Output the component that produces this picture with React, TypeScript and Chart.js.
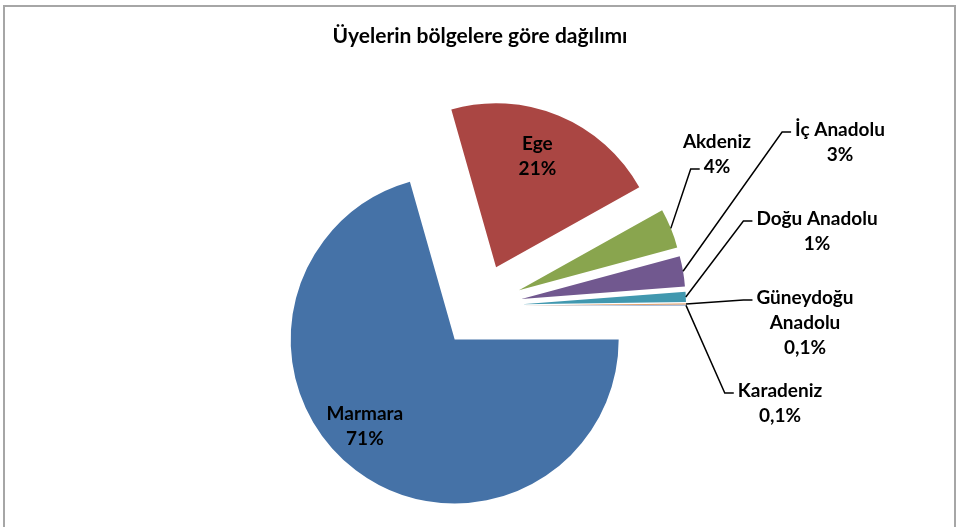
import React, { useEffect, useRef } from "react";
import { Chart, registerables } from "chart.js";

Chart.register(...registerables);

// ---- data ----
const titleText = "Üyelerin bölgelere göre dağılımı";
const categories = [
  "Marmara",
  "Ege",
  "Akdeniz",
  "İç Anadolu",
  "Doğu Anadolu",
  "Güneydoğu Anadolu",
  "Karadeniz",
];
const shares = [70.6, 21.3, 3.9, 3.0, 1.0, 0.1, 0.1];
// how each category name wraps in its data label
const nameLines = [
  ["Marmara"],
  ["Ege"],
  ["Akdeniz"],
  ["İç Anadolu"],
  ["Doğu Anadolu"],
  ["Güneydoğu", "Anadolu"],
  ["Karadeniz"],
];

// ---- styles / layout ----
const colors = ["#4572A7", "#AA4643", "#89A54E", "#71588F", "#4198AF", "#DB843D", "#93A9CF"];
const RADIUS = 164;
const EXPLODE = 42; // px each slice is pulled out from the centre
const FONT = "Lato, 'Open Sans', sans-serif";
const TITLE_SIZE = 21;
const LABEL_SIZE = 19;
const LINE_H = 25;
// label placement: inside slices (f = fraction of radius from the slice apex, da = angle shift in deg)
// or outside with leader line (dx/dy = centre of first text line relative to pie centre; attach = line the leader meets)
const labelLayout: Array<
  { inside: true; f: number; da: number } | { inside: false; dx: number; dy: number; attach: number }
> = [
  { inside: true, f: 0.76, da: 9 },
  { inside: true, f: 0.72, da: -2 },
  { inside: false, dx: 237, dy: -164, attach: 1 },
  { inside: false, dx: 360, dy: -176, attach: 0 },
  { inside: false, dx: 337, dy: -87, attach: 0 },
  { inside: false, dx: 325, dy: -8, attach: 0 },
  { inside: false, dx: 300, dy: 85, attach: 0 },
];

const total = shares.reduce((a, b) => a + b, 0);
const fmtPct = (v: number) => {
  const p = (v / total) * 100;
  if (p < 1) return p.toFixed(1).replace(".", ",") + "%";
  return Math.round(p) + "%";
};

const framePlugin = {
  id: "frame",
  beforeDraw(chart: any) {
    const ctx = chart.ctx;
    ctx.save();
    ctx.strokeStyle = "#a6a6a6";
    ctx.lineWidth = 2;
    ctx.strokeRect(4, 6, 951, 560);
    ctx.restore();
  },
};

// draw every arc element of the library pulled out along its bisector (exploded pie)
const explodePlugin = {
  id: "explode",
  beforeDatasetDraw(chart: any, args: any) {
    const ctx = chart.ctx;
    args.meta.data.forEach((arc: any) => {
      const mid = (arc.startAngle + arc.endAngle) / 2;
      ctx.save();
      ctx.translate(Math.cos(mid) * EXPLODE, Math.sin(mid) * EXPLODE);
      arc.draw(ctx);
      ctx.restore();
    });
    return false;
  },
};

const labelPlugin = {
  id: "pieLabels",
  afterDatasetsDraw(chart: any) {
    const ctx = chart.ctx;
    const meta = chart.getDatasetMeta(0);
    ctx.save();
    ctx.font = `bold ${LABEL_SIZE}px ${FONT}`;
    ctx.fillStyle = "#000";
    ctx.strokeStyle = "#000";
    ctx.lineWidth = 1.5;
    ctx.textAlign = "center";
    ctx.textBaseline = "middle";
    meta.data.forEach((arc: any, i: number) => {
      const { x, y, startAngle, endAngle, outerRadius } = arc.getProps(
        ["x", "y", "startAngle", "endAngle", "outerRadius"],
        true
      );
      const mid = (startAngle + endAngle) / 2;
      const ax0 = x + Math.cos(mid) * EXPLODE;
      const ay0 = y + Math.sin(mid) * EXPLODE;
      const lines = [...nameLines[i], fmtPct(shares[i])];
      const lay = labelLayout[i];
      if (lay.inside) {
        const a = mid + (lay.da * Math.PI) / 180;
        const d = outerRadius * lay.f;
        const cx = ax0 + Math.cos(a) * d;
        const cy = ay0 + Math.sin(a) * d;
        const top = cy - ((lines.length - 1) * LINE_H) / 2;
        lines.forEach((t, j) => ctx.fillText(t, cx, top + j * LINE_H));
      } else {
        const cx = x + lay.dx;
        const top = y + lay.dy;
        lines.forEach((t, j) => ctx.fillText(t, cx, top + j * LINE_H));
        const w = ctx.measureText(lines[lay.attach]).width;
        const ex = cx - w / 2 - 4;
        const ey = top + lay.attach * LINE_H + 2;
        const sx = ax0 + Math.cos(mid) * outerRadius;
        const sy = ay0 + Math.sin(mid) * outerRadius;
        ctx.beginPath();
        ctx.moveTo(sx, sy);
        ctx.lineTo(ex - 9, ey);
        ctx.lineTo(ex, ey);
        ctx.stroke();
      }
    });
    ctx.restore();
  },
};

export default function App() {
  const ref = useRef<HTMLCanvasElement | null>(null);
  useEffect(() => {
    if (!ref.current) return;
    const chart = new Chart(ref.current, {
      type: "pie",
      data: {
        labels: categories,
        datasets: [
          {
            data: shares,
            backgroundColor: colors,
            borderWidth: 0,
            radius: RADIUS,
            clip: false,
          } as any,
        ],
      },
      options: {
        responsive: false,
        animation: false,
        rotation: 90,
        layout: { padding: { left: 3, right: 0, top: 0, bottom: 0 } },
        plugins: {
          legend: { display: false },
          tooltip: { enabled: false },
          title: {
            display: true,
            text: titleText,
            color: "#000",
            font: { family: FONT, size: TITLE_SIZE, weight: "bold" },
            padding: { top: 24, bottom: 35.8 },
          },
        },
      } as any,
      plugins: [framePlugin, explodePlugin, labelPlugin],
    });
    return () => chart.destroy();
  }, []);
  return (
    <div style={{ position: "fixed", left: 0, top: 0, width: 957, height: 527, background: "#fff" }}>
      <canvas ref={ref} width={957} height={527} />
    </div>
  );
}
